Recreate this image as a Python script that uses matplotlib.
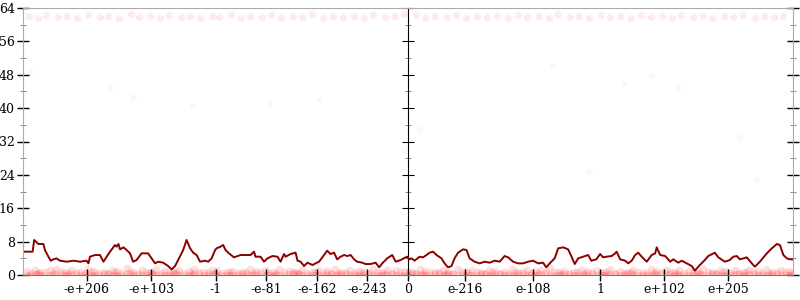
import matplotlib
matplotlib.use("Agg")
import matplotlib.pyplot as plt
from matplotlib.ticker import MultipleLocator, NullFormatter
import numpy as np

# x positions are flonum ordinals scaled to [-1, 1]
x_tick_vals = [-1e206, -1e103, -1.0, -1e-81, -1e-162, -1e-243, 0.0,
               1e-216, 1e-108, 1.0, 1e102, 1e205]
x_tick_labels = ["-e+206", "-e+103", "-1", "-e-81", "-e-162", "-e-243", "0",
                 "e-216", "e-108", "1", "e+102", "e+205"]

# moving average of error bits
line_x = [-1.0, -0.975, -0.971, -0.960, -0.947, -0.943, -0.934, -0.928, -0.921, -0.913,
          -0.904, -0.886, -0.869, -0.852, -0.835, -0.830, -0.826, -0.813, -0.800, -0.791,
          -0.787, -0.774, -0.761, -0.757, -0.752, -0.748, -0.739, -0.731, -0.722, -0.714,
          -0.705, -0.692, -0.675, -0.666, -0.657, -0.649, -0.636, -0.623, -0.614, -0.605,
          -0.597, -0.584, -0.575, -0.566, -0.558, -0.549, -0.540, -0.527, -0.519, -0.510,
          -0.501, -0.497, -0.487, -0.480, -0.474, -0.465, -0.452, -0.435, -0.409, -0.400,
          -0.396, -0.383, -0.374, -0.365, -0.352, -0.339, -0.331, -0.322, -0.318, -0.305,
          -0.292, -0.287, -0.279, -0.270, -0.261, -0.248, -0.240, -0.231, -0.218, -0.210,
          -0.201, -0.192, -0.184, -0.175, -0.166, -0.158, -0.149, -0.140, -0.132, -0.119,
          -0.110, -0.097, -0.084, -0.075, -0.067, -0.054, -0.041, -0.032, -0.019, -0.006,
          -0.002, 0.003, 0.009, 0.017, 0.030, 0.039, 0.048, 0.056, 0.065, 0.074,
          0.087, 0.095, 0.104, 0.113, 0.121, 0.130, 0.143, 0.152, 0.160, 0.173,
          0.186, 0.199, 0.212, 0.225, 0.238, 0.251, 0.260, 0.273, 0.286, 0.299,
          0.312, 0.325, 0.338, 0.351, 0.359, 0.368, 0.381, 0.390, 0.403, 0.416,
          0.424, 0.433, 0.442, 0.455, 0.468, 0.476, 0.489, 0.499, 0.507, 0.516,
          0.529, 0.538, 0.542, 0.551, 0.564, 0.572, 0.581, 0.590, 0.598, 0.607,
          0.620, 0.633, 0.642, 0.646, 0.655, 0.668, 0.681, 0.689, 0.702, 0.711,
          0.724, 0.737, 0.745, 0.758, 0.771, 0.780, 0.797, 0.806, 0.823, 0.836,
          0.845, 0.854, 0.862, 0.880, 0.893, 0.901, 0.914, 0.932, 0.945, 0.958,
          0.966, 0.975, 0.984, 0.992, 1.0]
line_bits = [5.59, 5.59, 8.39, 7.43, 7.43, 5.99, 4.39, 3.43, 3.75, 3.99,
             3.43, 3.19, 3.43, 3.19, 3.43, 2.79, 4.39, 4.79, 4.79, 3.19,
             3.75, 5.59, 7.19, 6.79, 7.43, 6.15, 6.63, 5.99, 5.19, 3.19,
             3.59, 5.19, 5.19, 3.99, 2.79, 3.19, 2.95, 2.15, 1.35, 2.15,
             3.59, 5.99, 8.39, 6.39, 5.35, 4.79, 3.19, 3.43, 3.19, 3.99,
             5.99, 6.39, 6.79, 7.19, 5.99, 5.19, 4.23, 4.79, 4.79, 5.59,
             4.39, 4.39, 3.19, 3.99, 4.55, 4.39, 3.19, 5.03, 4.39, 5.03,
             5.35, 3.43, 3.19, 2.15, 2.95, 2.39, 2.79, 3.19, 4.79, 5.83,
             5.03, 5.35, 3.75, 4.39, 4.79, 4.55, 4.79, 3.75, 3.19, 2.95,
             2.63, 2.63, 2.95, 1.83, 2.79, 3.99, 4.79, 3.19, 3.59, 4.23,
             4.39, 3.75, 3.99, 3.43, 4.39, 4.23, 4.79, 5.35, 5.59, 4.79,
             3.99, 2.79, 1.83, 2.15, 3.99, 5.35, 6.15, 5.99, 3.99, 3.19,
             2.79, 3.19, 2.95, 3.43, 3.19, 4.55, 4.23, 3.19, 2.79, 2.79,
             3.19, 3.43, 2.79, 2.95, 1.83, 2.79, 3.99, 6.39, 6.63, 6.15,
             4.55, 2.63, 3.99, 4.39, 4.79, 3.43, 3.75, 5.03, 4.23, 4.39,
             4.55, 5.19, 5.59, 3.75, 3.43, 2.79, 3.43, 4.79, 5.35, 4.39,
             3.19, 4.79, 5.19, 6.63, 4.79, 4.55, 3.19, 3.75, 2.95, 3.43,
             2.79, 2.15, 1.03, 2.39, 3.59, 4.55, 5.35, 4.23, 3.19, 3.59,
             4.39, 4.55, 3.75, 4.23, 2.79, 1.99, 3.19, 5.19, 6.39, 7.43,
             7.19, 4.79, 3.99, 3.75, 3.75]

# sampled errors: low band, high band, and a few stragglers
bottom_x = [-0.99, -0.97, -0.955, -0.93, -0.915, -0.89, -0.875, -0.85, -0.83, -0.815,
            -0.79, -0.77, -0.755, -0.73, -0.715, -0.69, -0.67, -0.655, -0.63, -0.61,
            -0.595, -0.57, -0.555, -0.53, -0.51, -0.495, -0.47, -0.455, -0.43, -0.41,
            -0.395, -0.37, -0.35, -0.335, -0.31, -0.29, -0.275, -0.25, -0.235, -0.21,
            -0.19, -0.175, -0.15, -0.13, -0.115, -0.09, -0.07, -0.055, -0.03, -0.01,
            0.01, 0.03, 0.045, 0.07, 0.09, 0.105, 0.13, 0.15, 0.165, 0.19,
            0.21, 0.225, 0.25, 0.27, 0.285, 0.31, 0.33, 0.345, 0.37, 0.39,
            0.405, 0.43, 0.45, 0.465, 0.49, 0.51, 0.525, 0.55, 0.57, 0.585,
            0.61, 0.63, 0.645, 0.67, 0.69, 0.705, 0.73, 0.75, 0.765, 0.79,
            0.81, 0.825, 0.85, 0.87, 0.885, 0.91, 0.93, 0.945, 0.97, 0.99]
bottom_mid_x = [-0.98, -0.962, -0.942, -0.922, -0.902, -0.882, -0.862, -0.84, -0.822, -0.802,
                -0.78, -0.762, -0.742, -0.722, -0.702, -0.68, -0.662, -0.642, -0.62, -0.602,
                -0.582, -0.562, -0.542, -0.52, -0.502, -0.482, -0.462, -0.442, -0.42, -0.402,
                -0.382, -0.36, -0.342, -0.322, -0.3, -0.282, -0.262, -0.242, -0.222, -0.2,
                -0.182, -0.162, -0.14, -0.122, -0.102, -0.08, -0.062, -0.042, -0.02, 0.0,
                0.02, 0.038, 0.058, 0.08, 0.098, 0.118, 0.14, 0.158, 0.178, 0.2,
                0.218, 0.238, 0.26, 0.278, 0.298, 0.32, 0.338, 0.358, 0.38, 0.398,
                0.418, 0.44, 0.458, 0.478, 0.5, 0.518, 0.538, 0.56, 0.578, 0.598,
                0.62, 0.638, 0.658, 0.68, 0.698, 0.718, 0.74, 0.758, 0.778, 0.8,
                0.818, 0.838, 0.86, 0.878, 0.898, 0.92, 0.938, 0.958, 0.98, 0.995]
bottom_lo = [0.0, 0.2, 0.0, 0.1, 0.3, 0.0, 0.2, 0.0, 0.1, 0.0,
             0.3, 0.0, 0.1, 0.2, 0.0, 0.0, 0.3, 0.1, 0.0, 0.2,
             0.0, 0.1, 0.3, 0.0, 0.2, 0.0, 0.0, 0.1, 0.3, 0.0,
             0.2, 0.0, 0.1, 0.0, 0.3, 0.2, 0.0, 0.1, 0.0, 0.2,
             0.0, 0.3, 0.1, 0.0, 0.2, 0.0, 0.1, 0.3, 0.0, 0.0,
             0.2, 0.0, 0.1, 0.3, 0.0, 0.2, 0.0, 0.1, 0.0, 0.3,
             0.0, 0.2, 0.1, 0.0, 0.3, 0.0, 0.1, 0.2, 0.0, 0.0,
             0.3, 0.1, 0.0, 0.2, 0.0, 0.1, 0.3, 0.0, 0.2, 0.0,
             0.0, 0.1, 0.3, 0.2, 0.0, 0.1, 0.0, 0.3, 0.0, 0.2,
             0.1, 0.0, 0.2, 0.0, 0.3, 0.1, 0.0, 0.2, 0.0, 0.1]
bottom_md = [0.5, 0.4, 0.7, 0.5, 0.6, 0.4, 0.6, 0.5, 0.7, 0.4,
             0.5, 0.6, 0.4, 0.7, 0.5, 0.6, 0.4, 0.5, 0.7, 0.6,
             0.4, 0.5, 0.6, 0.7, 0.4, 0.5, 0.6, 0.4, 0.7, 0.5,
             0.6, 0.4, 0.5, 0.7, 0.6, 0.4, 0.5, 0.6, 0.7, 0.4,
             0.5, 0.6, 0.4, 0.7, 0.5, 0.6, 0.4, 0.5, 0.7, 0.6,
             0.4, 0.5, 0.6, 0.7, 0.4, 0.5, 0.6, 0.4, 0.7, 0.5,
             0.6, 0.4, 0.5, 0.7, 0.6, 0.4, 0.5, 0.6, 0.7, 0.4,
             0.5, 0.6, 0.4, 0.7, 0.5, 0.6, 0.4, 0.5, 0.7, 0.6,
             0.4, 0.5, 0.6, 0.7, 0.4, 0.5, 0.6, 0.4, 0.7, 0.5,
             0.6, 0.4, 0.5, 0.7, 0.6, 0.4, 0.5, 0.6, 0.7, 0.4]
bottom_hi = [0.9, 1.3, 0.7, 1.1, 1.5, 0.8, 1.2, 0.6, 1.4, 1.0,
             0.7, 1.3, 0.9, 1.6, 0.8, 1.1, 0.6, 1.4, 1.0, 0.7,
             1.2, 0.9, 1.5, 0.6, 1.1, 1.3, 0.8, 1.0, 0.7, 1.4,
             0.9, 1.2, 0.6, 1.5, 1.0, 0.8, 1.3, 0.7, 1.1, 0.9,
             1.4, 0.6, 1.2, 1.0, 0.8, 1.5, 0.7, 1.1, 1.3, 0.9,
             0.6, 1.4, 1.0, 0.8, 1.2, 0.7, 1.5, 0.9, 1.1, 0.6,
             1.3, 1.0, 0.8, 1.4, 0.7, 1.2, 0.9, 1.1, 1.6, 0.8,
             1.0, 0.6, 1.3, 0.9, 1.2, 0.7, 1.4, 1.0, 0.8, 1.1,
             0.6, 1.5, 0.9, 1.2, 0.7, 1.3, 1.0, 0.8, 1.4, 0.6,
             1.1, 0.9, 1.3, 0.7, 1.2, 1.0, 1.5, 0.8, 1.1, 0.9]
top_x = [-0.985, -0.96, -0.94, -0.91, -0.885, -0.86, -0.83, -0.80, -0.78, -0.75,
         -0.72, -0.70, -0.67, -0.645, -0.62, -0.59, -0.565, -0.54, -0.51, -0.49,
         -0.46, -0.435, -0.41, -0.38, -0.355, -0.33, -0.30, -0.275, -0.25, -0.22,
         -0.195, -0.17, -0.14, -0.115, -0.09, -0.06, -0.035, -0.01, 0.02, 0.045,
         0.07, 0.10, 0.125, 0.15, 0.18, 0.205, 0.23, 0.26, 0.285, 0.31,
         0.34, 0.365, 0.39, 0.42, 0.445, 0.47, 0.50, 0.525, 0.55, 0.58,
         0.605, 0.63, 0.66, 0.685, 0.71, 0.74, 0.765, 0.79, 0.82, 0.845,
         0.87, 0.90, 0.925, 0.95, 0.975]
top_y = [62.0, 61.6, 62.3, 61.8, 62.1, 61.5, 62.4, 61.9, 62.0, 61.7,
         62.5, 61.8, 62.1, 61.6, 62.3, 61.9, 62.0, 61.5, 62.2, 61.8,
         62.4, 61.7, 62.0, 61.9, 62.3, 61.6, 62.1, 61.8, 62.5, 61.7,
         62.0, 61.9, 62.2, 61.6, 62.4, 61.8, 62.0, 62.6, 62.3, 61.7,
         62.1, 61.9, 62.4, 61.6, 62.0, 61.8, 62.2, 61.5, 62.3, 61.9,
         62.0, 61.7, 62.5, 61.8, 62.1, 61.6, 62.3, 61.9, 62.0, 61.7,
         62.4, 61.8, 62.1, 61.6, 62.3, 61.9, 62.0, 61.5, 62.2, 61.8,
         62.4, 61.7, 62.0, 61.9, 62.1]
mid_x = [-0.982, -0.774, -0.714, -0.560, -0.360, -0.230, -0.010, 0.030, 0.375,
         0.560, 0.630, 0.700, 0.470, 0.860, 0.905]
mid_y = [48.7, 44.8, 42.7, 40.5, 41.0, 42.0, 30.0, 35.0, 50.0,
         46.0, 48.0, 45.0, 25.0, 33.0, 23.0]


def flord(v):
    v = np.asarray(v, dtype=np.float64)
    return np.sign(v) * np.abs(v).view(np.int64).astype(float)


MAX_ORD = flord(np.finfo(np.float64).max)
tick_pos = flord(x_tick_vals) / MAX_ORD

fig = plt.figure(figsize=(8, 3), dpi=100)
ax = fig.add_axes([23 / 800, 25 / 300, 770 / 800, 267 / 300])

pt = dict(s=30, color='#ff0000', alpha=0.13, linewidths=0)
ax.scatter(bottom_x, bottom_lo, **pt)
ax.scatter(bottom_mid_x, bottom_md, **pt)
ax.scatter(bottom_x, bottom_hi, **pt)
ax.scatter(bottom_mid_x, bottom_lo, **pt)
ax.scatter(top_x, top_y, s=28, color='#ff0000', alpha=0.08, linewidths=0)
ax.scatter(mid_x, mid_y, s=20, color='#ff0000', alpha=0.04, linewidths=0)
ax.plot(line_x, line_bits, color='#8b0000', lw=1.4)

ax.set_xlim(-1, 1)
ax.set_ylim(0, 64)
ax.set_xticks(tick_pos)
ax.set_xticklabels(x_tick_labels, family='DejaVu Serif', fontsize=9)
ax.yaxis.set_major_locator(MultipleLocator(8))
ax.yaxis.set_minor_locator(MultipleLocator(4))
for lab in ax.get_yticklabels():
    lab.set_family('DejaVu Serif')
    lab.set_fontsize(9)

for s in ax.spines.values():
    s.set_color('#aaaaaa')
ax.spines['bottom'].set_color('#777777')
ax.tick_params(axis='both', which='major', direction='inout', length=8, width=1,
               color='black', pad=2)
ax.tick_params(axis='y', which='minor', direction='inout', length=4, color='#777777')
ax.tick_params(axis='y', which='both', right=True)

mid = ax.secondary_yaxis(0.5)
mid.spines['left'].set_color('#555555')
mid.yaxis.set_major_locator(MultipleLocator(8))
mid.yaxis.set_minor_locator(MultipleLocator(4))
mid.yaxis.set_major_formatter(NullFormatter())
mid.tick_params(which='major', direction='inout', length=8, color='black',
                labelleft=False, labelright=False)
mid.tick_params(which='minor', direction='inout', length=4, color='#777777')

plt.savefig("out.png", dpi=100)
